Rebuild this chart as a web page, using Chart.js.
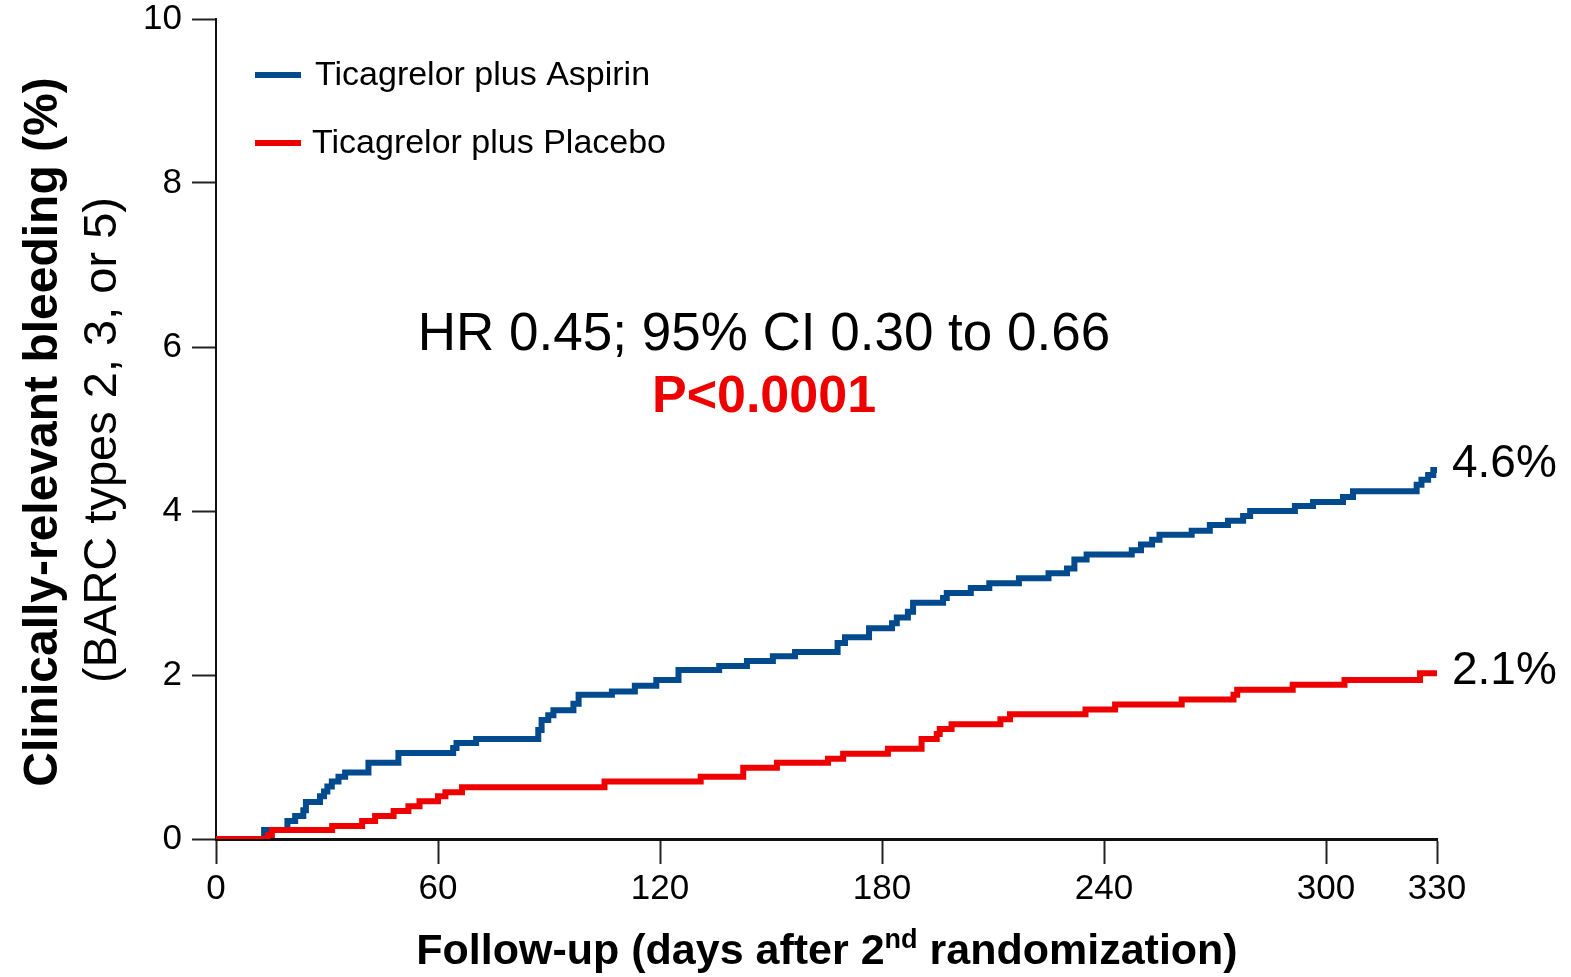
<!DOCTYPE html>
<html>
<head>
<meta charset="utf-8">
<script src="https://cdn.jsdelivr.net/npm/chart.js@4/dist/chart.umd.min.js"></script>
<style>
    html, body { margin: 0; padding: 0; background: #fff; }
    #wrap { position: relative; width: 1571px; height: 977px; }
</style>
</head>
<body>
<div id="wrap"><canvas id="km-chart"></canvas></div>
<script>
// Kaplan-Meier steps: day at which the cumulative incidence changes, and the new value (%)
const aspirinDays = [0, 13, 19.3, 21.4, 23.6, 24.3, 28.1, 29.2, 30.1, 31.3, 33.1, 34.9, 41.2, 49.3, 64.1, 65, 70.3, 87.1, 88, 89.8, 91.2, 96.6, 98, 107, 113.2, 119, 125, 136, 143.5, 150.5, 156.5, 168, 170, 176.5, 182.7, 184, 187, 188.4, 196.5, 197.5, 204, 209, 217, 225, 230, 232, 235.3, 247.5, 250, 253, 255, 263.7, 268.6, 273.5, 277.6, 279.5, 291.6, 296.5, 304.6, 307.3, 324.5, 325.8, 327.6, 329, 330];
const aspirinRisk = [0, 0.11, 0.22, 0.28, 0.35, 0.45, 0.52, 0.58, 0.64, 0.70, 0.76, 0.81, 0.93, 1.05, 1.11, 1.17, 1.22, 1.33, 1.45, 1.51, 1.57, 1.65, 1.76, 1.80, 1.87, 1.94, 2.06, 2.11, 2.17, 2.23, 2.28, 2.39, 2.46, 2.57, 2.63, 2.70, 2.77, 2.88, 2.94, 3.00, 3.06, 3.12, 3.18, 3.24, 3.30, 3.41, 3.47, 3.52, 3.59, 3.65, 3.71, 3.76, 3.83, 3.88, 3.94, 4.00, 4.06, 4.11, 4.17, 4.24, 4.32, 4.38, 4.44, 4.50, 4.50];

const placeboDays = [0, 14, 15.1, 31.4, 39.5, 43, 48, 52, 55, 60, 62, 66.5, 105, 131, 142.5, 151.6, 165.4, 169.5, 181.6, 190.7, 194.8, 195.6, 198.8, 212, 214.6, 235, 243, 261, 275, 276, 291, 305, 325.4, 330];
const placeboRisk = [0, 0.05, 0.11, 0.16, 0.22, 0.28, 0.34, 0.40, 0.46, 0.52, 0.57, 0.63, 0.70, 0.76, 0.87, 0.93, 0.98, 1.04, 1.10, 1.22, 1.28, 1.34, 1.40, 1.46, 1.52, 1.58, 1.64, 1.70, 1.76, 1.82, 1.88, 1.94, 2.02, 2.02];

const xTicks = [0, 60, 120, 180, 240, 300, 330];
const yTicks = [0, 2, 4, 6, 8, 10];
const seriesNames = ['Ticagrelor plus Aspirin', 'Ticagrelor plus Placebo'];
const endLabels = ['4.6%', '2.1%'];

const BLUE = '#004a8d';
const RED = '#ee0000';
const FONT = '"Liberation Sans", Arial, sans-serif';

function toPoints(days, risk) {
    return days.map((d, i) => ({ x: d, y: risk[i] }));
}

// titles, legend and annotations drawn on top of the chart
const annotations = {
    id: 'annotations',
    afterDraw(chart) {
        const ctx = chart.ctx;
        const xs = chart.scales.x;
        const ys = chart.scales.y;
        ctx.save();
        ctx.fillStyle = '#000';

        // legend
        const legendRows = [
            { y: 75, color: BLUE, textX: 315 },
            { y: 143, color: RED, textX: 312 }
        ];
        legendRows.forEach((row, i) => {
            ctx.strokeStyle = row.color;
            ctx.lineWidth = 6;
            ctx.beginPath();
            ctx.moveTo(255, row.y);
            ctx.lineTo(301, row.y);
            ctx.stroke();
            ctx.font = `34px ${FONT}`;
            ctx.textAlign = 'left';
            ctx.textBaseline = 'middle';
            ctx.fillStyle = '#000';
            ctx.fillText(seriesNames[i], row.textX, row.y + 1);
        });

        // HR / p value
        ctx.textAlign = 'center';
        ctx.textBaseline = 'alphabetic';
        ctx.font = `53px ${FONT}`;
        ctx.fillText('HR 0.45; 95% CI 0.30 to 0.66', 764, 350);
        ctx.fillStyle = RED;
        ctx.font = `bold 52px ${FONT}`;
        ctx.fillText('P<0.0001', 764, 412);

        // end-of-curve labels
        ctx.fillStyle = '#000';
        ctx.font = `46px ${FONT}`;
        ctx.textAlign = 'left';
        ctx.textBaseline = 'middle';
        const ends = [aspirinRisk[aspirinRisk.length - 1], placeboRisk[placeboRisk.length - 1]];
        const offsets = [-6, -2];
        ends.forEach((v, i) => {
            ctx.fillText(endLabels[i], xs.getPixelForValue(330) + 15, ys.getPixelForValue(v) + offsets[i]);
        });

        // y-axis title, two lines
        ctx.save();
        ctx.translate(44, 432);
        ctx.rotate(-Math.PI / 2);
        ctx.textAlign = 'center';
        ctx.textBaseline = 'middle';
        ctx.font = `bold 48px ${FONT}`;
        ctx.fillText('Clinically-relevant bleeding (%)', 0, 0);
        ctx.restore();
        ctx.save();
        ctx.translate(103, 440);
        ctx.rotate(-Math.PI / 2);
        ctx.textAlign = 'center';
        ctx.textBaseline = 'middle';
        ctx.font = `47px ${FONT}`;
        ctx.fillText('(BARC types 2, 3, or 5)', 0, 0);
        ctx.restore();

        // x-axis title with superscript
        const partA = 'Follow-up (days after 2';
        const sup = 'nd';
        const partB = ' randomization)';
        ctx.textAlign = 'left';
        ctx.textBaseline = 'alphabetic';
        ctx.font = `bold 43px ${FONT}`;
        const wA = ctx.measureText(partA).width;
        const wB = ctx.measureText(partB).width;
        ctx.font = `bold 27px ${FONT}`;
        const wS = ctx.measureText(sup).width;
        let x = 827 - (wA + wS + wB) / 2;
        const base = 964;
        ctx.font = `bold 43px ${FONT}`;
        ctx.fillText(partA, x, base);
        x += wA;
        ctx.font = `bold 27px ${FONT}`;
        ctx.fillText(sup, x, base - 16);
        x += wS;
        ctx.font = `bold 43px ${FONT}`;
        ctx.fillText(partB, x, base);

        ctx.restore();
    }
};

const ctx = document.getElementById('km-chart').getContext('2d');
const kmChart = new Chart(ctx, {
    type: 'line',
    data: {
        datasets: [
            {
                label: seriesNames[1],
                data: toPoints(placeboDays, placeboRisk),
                borderColor: RED,
                borderWidth: 6,
                stepped: 'before',
                pointRadius: 0,
                fill: false
            },
            {
                label: seriesNames[0],
                data: toPoints(aspirinDays, aspirinRisk),
                borderColor: BLUE,
                borderWidth: 6,
                stepped: 'before',
                pointRadius: 0,
                fill: false
            }
        ]
    },
    options: {
        responsive: true,
        maintainAspectRatio: false,
        animation: false,
        layout: { padding: { left: 0, top: 19, right: 134, bottom: 0 } },
        plugins: {
            legend: { display: false },
            tooltip: { enabled: false }
        },
        scales: {
            x: {
                type: 'linear',
                min: 0,
                max: 330,
                afterBuildTicks: (scale) => { scale.ticks = xTicks.map(v => ({ value: v })); },
                afterFit: (scale) => {
                    scale.height = 138;
                    scale.paddingLeft = 0;
                    scale.paddingRight = 0;
                },
                ticks: {
                    color: '#000',
                    padding: 4,
                    maxRotation: 0,
                    autoSkip: false,
                    font: { family: FONT, size: 35 }
                },
                grid: {
                    drawOnChartArea: false,
                    drawTicks: true,
                    tickLength: 25,
                    tickWidth: 2,
                    tickColor: '#222'
                },
                border: { display: true, color: '#111', width: 3 }
            },
            y: {
                min: 0,
                max: 10,
                afterBuildTicks: (scale) => { scale.ticks = yTicks.map(v => ({ value: v })); },
                afterFit: (scale) => {
                    scale.width = 216;
                    scale.paddingTop = 0;
                    scale.paddingBottom = 0;
                },
                ticks: {
                    color: '#000',
                    padding: 10,
                    font: { family: FONT, size: 35 }
                },
                grid: {
                    drawOnChartArea: false,
                    drawTicks: true,
                    tickLength: 24,
                    tickWidth: 2,
                    tickColor: '#222'
                },
                border: { display: true, color: '#111', width: 2 }
            }
        }
    },
    plugins: [annotations]
});
</script>
</body>
</html>
